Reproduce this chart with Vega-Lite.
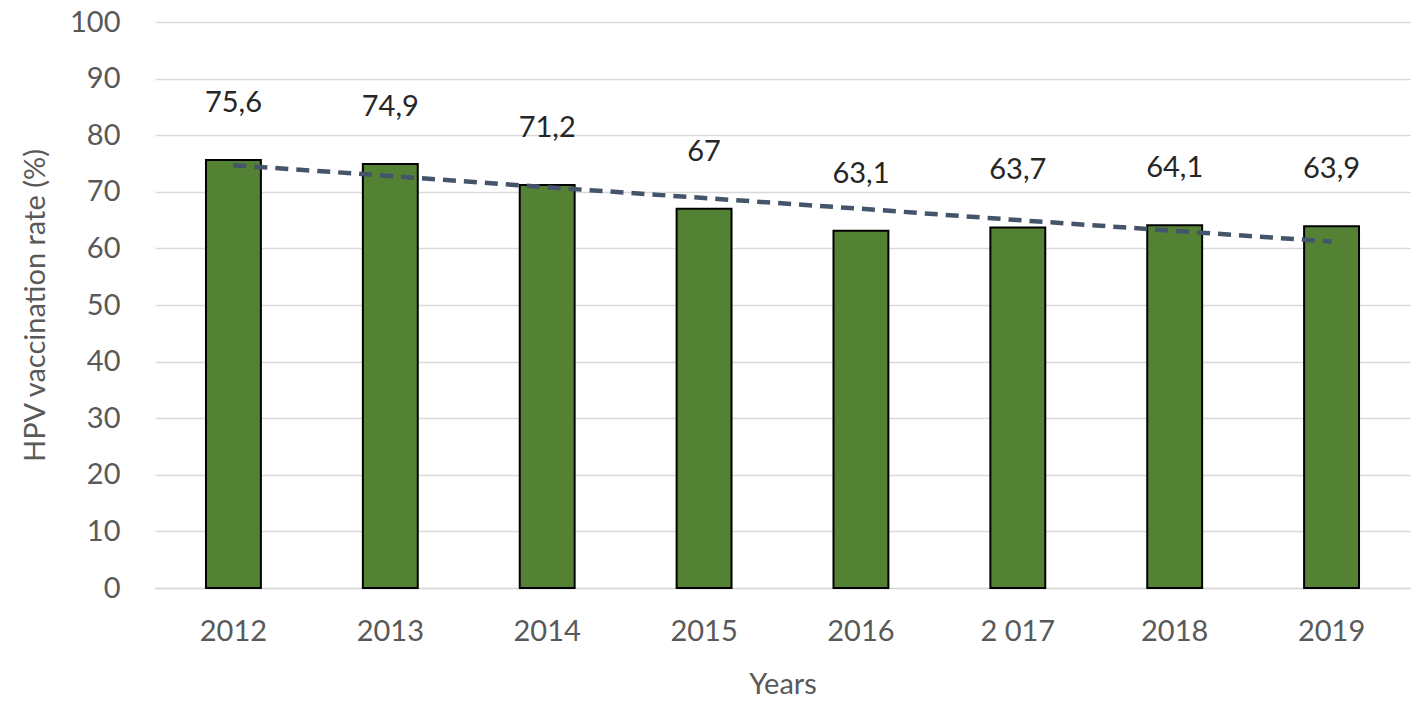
{
  "$schema": "https://vega.github.io/schema/vega-lite/v6.json",
  "width": 1255,
  "height": 566,
  "autosize": "none",
  "padding": {"left": 155, "top": 22, "right": 7, "bottom": 113},
  "background": "white",
  "data": {
    "values": [
      {"year": "2012", "rate": 75.6, "label": "75,6", "trend": 74.7},
      {"year": "2013", "rate": 74.9, "label": "74,9", "trend": 72.8},
      {"year": "2014", "rate": 71.2, "label": "71,2", "trend": 70.8},
      {"year": "2015", "rate": 67.0, "label": "67", "trend": 68.9},
      {"year": "2016", "rate": 63.1, "label": "63,1", "trend": 67.0},
      {"year": "2 017", "rate": 63.7, "label": "63,7", "trend": 65.0},
      {"year": "2018", "rate": 64.1, "label": "64,1", "trend": 63.1},
      {"year": "2019", "rate": 63.9, "label": "63,9", "trend": 61.2}
    ]
  },
  "encoding": {
    "x": {
      "field": "year",
      "type": "nominal",
      "sort": null,
      "scale": {"paddingInner": 0.65, "paddingOuter": 0.325},
      "axis": {
        "title": "Years",
        "labelAngle": 0,
        "labelPadding": 29,
        "titlePadding": 24,
        "ticks": false,
        "domain": true,
        "domainColor": "#d9d9d9",
        "domainWidth": 1.5
      }
    }
  },
  "layer": [
    {
      "mark": {"type": "bar", "color": "#548235", "stroke": "#000000", "strokeWidth": 2},
      "encoding": {
        "y": {
          "field": "rate",
          "type": "quantitative",
          "scale": {"domain": [0, 100]},
          "axis": {
            "title": "HPV vaccination rate (%)",
            "values": [0, 10, 20, 30, 40, 50, 60, 70, 80, 90, 100],
            "grid": true,
            "gridColor": "#d9d9d9",
            "gridWidth": 1.5,
            "ticks": false,
            "domain": false,
            "labelPadding": 35,
            "titlePadding": 19
          }
        }
      }
    },
    {
      "mark": {"type": "line", "color": "#44546A", "strokeWidth": 4.5, "strokeDash": [13, 8]},
      "encoding": {
        "y": {"field": "trend", "type": "quantitative"}
      }
    },
    {
      "mark": {"type": "text", "baseline": "bottom", "dy": -42, "fontSize": 29, "font": "Lato", "color": "#262626"},
      "encoding": {
        "y": {"field": "rate", "type": "quantitative"},
        "text": {"field": "label"}
      }
    }
  ],
  "config": {
    "view": {"stroke": null},
    "axis": {
      "labelFont": "Lato",
      "titleFont": "Lato",
      "labelFontSize": 29,
      "titleFontSize": 29,
      "labelColor": "#595959",
      "titleColor": "#595959",
      "titleFontWeight": "normal"
    }
  }
}
